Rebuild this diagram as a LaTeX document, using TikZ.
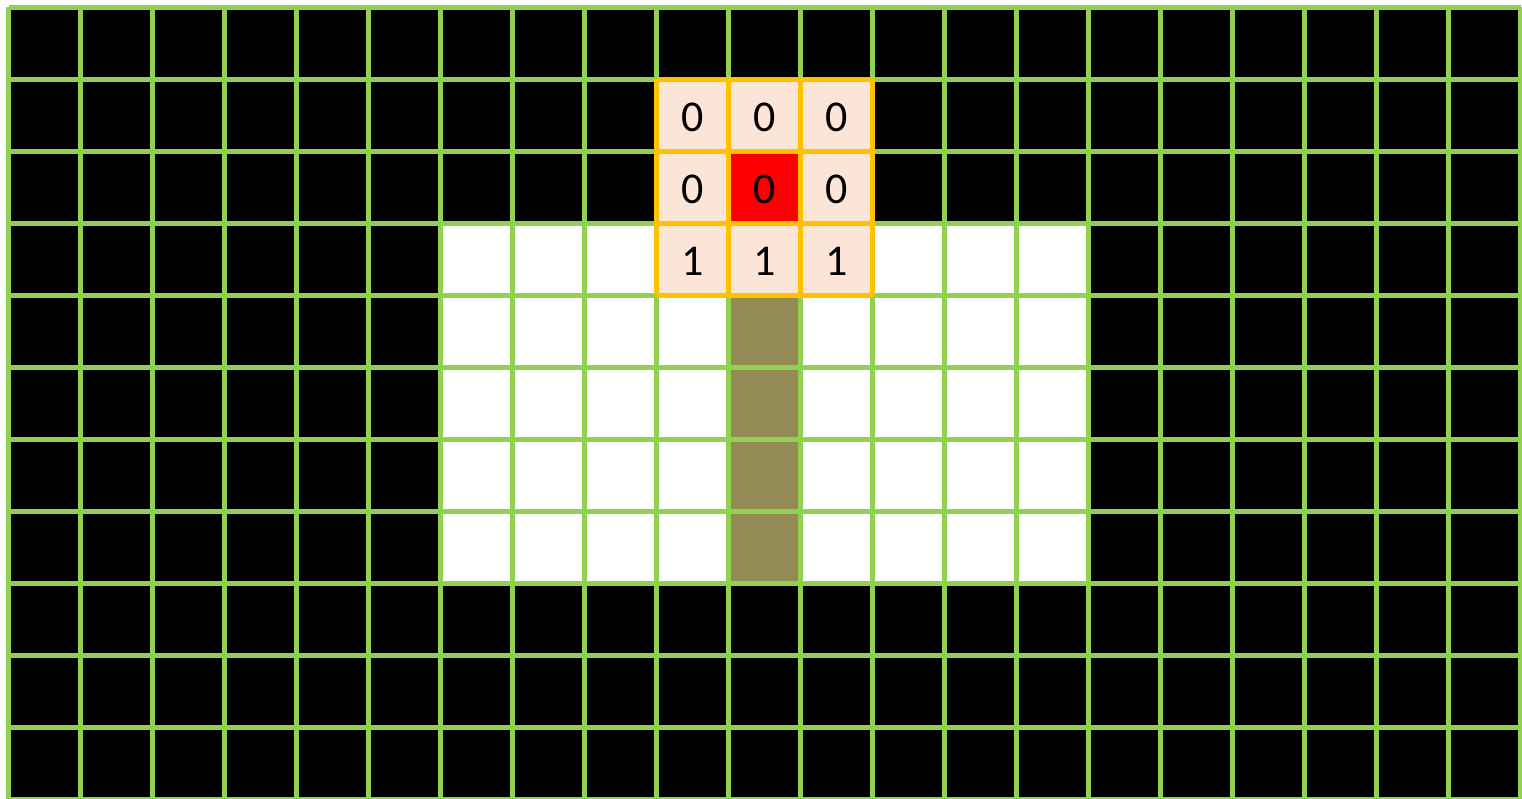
\documentclass[tikz,border=0pt]{standalone}
\usepackage{fontspec}
\setmainfont{Carlito}
\definecolor{gridgreen}{HTML}{92D050}
\definecolor{winorange}{HTML}{FFC000}
\definecolor{winpeach}{HTML}{FBE5D6}
\definecolor{olive}{HTML}{948A54}
\begin{document}
\begin{tikzpicture}[x=1pt,y=-1pt,
  gline/.style={draw=gridgreen,line width=5pt},
  oline/.style={draw=winorange,line width=5pt},
  digit/.style={font=\fontsize{44}{48}\selectfont,text=black,inner sep=0pt,anchor=center}]
\useasboundingbox (0,0) rectangle (1522,799);
% background regions
\fill[black] (8.5,7.5) rectangle (1520.5,799.5);
\fill[white] (440.5,223.5) rectangle (1088.5,583.5);
\fill[olive] (728.5,295.5) rectangle (800.5,583.5);
\fill[winpeach] (656.5,79.5) rectangle (872.5,295.5);
\fill[red] (728.5,151.5) rectangle (800.5,223.5);
% green grid
\foreach \i in {0,...,21} {
  \draw[gline] ({8.5+72*\i},7.5) -- ({8.5+72*\i},799.5);
}
\foreach \j in {0,...,11} {
  \draw[gline] (8.5,{7.5+72*\j}) -- (1520.5,{7.5+72*\j});
}
% orange window grid
\foreach \i in {0,...,3} {
  \draw[oline] ({656.5+72*\i},79.5) -- ({656.5+72*\i},295.5);
  \draw[oline] (656.5,{79.5+72*\i}) -- (872.5,{79.5+72*\i});
}
% digits
\node[digit] (w11) at (692.5,117.5) {0};
\node[digit] (w12) at (764.5,117.5) {0};
\node[digit] (w13) at (836.5,117.5) {0};
\node[digit] (w21) at (692.5,189.5) {0};
\node[digit] (w22) at (764.5,189.5) {0};
\node[digit] (w23) at (836.5,189.5) {0};
\node[digit] (w31) at (692.5,261.5) {1};
\node[digit] (w32) at (764.5,261.5) {1};
\node[digit] (w33) at (836.5,261.5) {1};
\end{tikzpicture}
\end{document}
